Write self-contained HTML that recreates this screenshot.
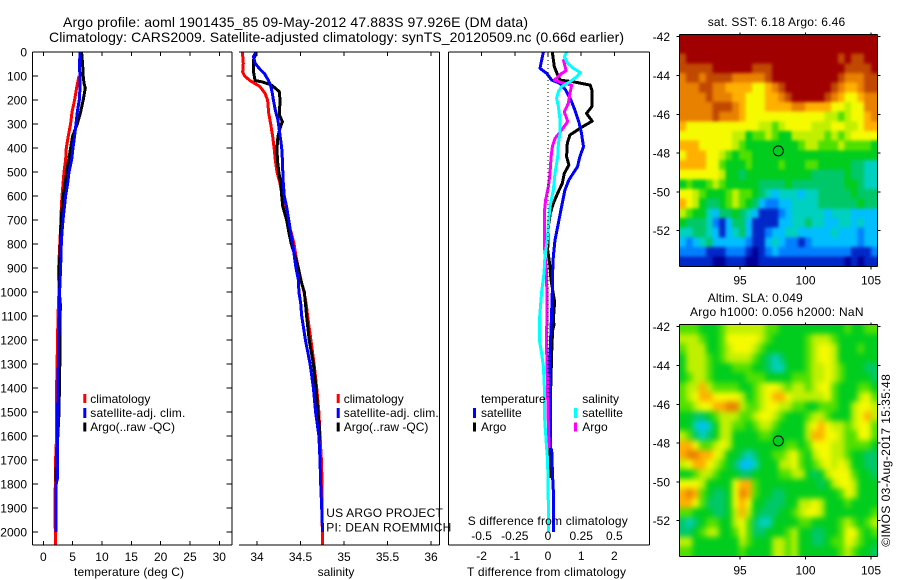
<!DOCTYPE html>
<html>
<head>
<meta charset="utf-8">
<title>Argo profile chart</title>
<style>
html,body{margin:0;padding:0;background:#fff;}
svg{display:block;}
text{font-family:"Liberation Sans",sans-serif;font-size:12px;fill:#000;}
.t14{font-size:14px;}
</style>
</head>
<body>
<svg id="chart" xmlns="http://www.w3.org/2000/svg" width="900" height="580" viewBox="0 0 900 580">
<defs>
<filter id="smoothSst" x="-5%" y="-5%" width="110%" height="110%" color-interpolation-filters="sRGB">
<feGaussianBlur stdDeviation="1.6"/>
<feComponentTransfer><feFuncA type="discrete" tableValues="0 1 1 1 1 1 1 1"/></feComponentTransfer>
</filter>
<filter id="smoothSla" x="-5%" y="-5%" width="110%" height="110%" color-interpolation-filters="sRGB">
<feGaussianBlur stdDeviation="3"/>
<feComponentTransfer><feFuncA type="discrete" tableValues="0 1 1 1 1 1 1 1"/></feComponentTransfer>
</filter>
<clipPath id="clipSst"><rect x="679.3" y="34.3" width="198" height="232"/></clipPath>
<clipPath id="clipSla"><rect x="679.3" y="324.3" width="198" height="232"/></clipPath>
</defs>
<rect x="0" y="0" width="900" height="580" fill="#fff"/>
<text class="t14" x="63" y="27" textLength="465" lengthAdjust="spacing">Argo profile: aoml 1901435_85 09-May-2012 47.883S 97.926E (DM data)</text>
<text class="t14" x="49" y="42" textLength="575" lengthAdjust="spacing">Climatology: CARS2009. Satellite-adjusted climatology: synTS_20120509.nc (0.66d earlier)</text>

<g clip-path="url(#clipSst)"><g id="mapSst" filter="url(#smoothSst)"></g></g>
<g clip-path="url(#clipSla)"><g id="mapSla" filter="url(#smoothSla)"></g></g>
<g id="series"></g>
<g id="axes"></g>

<text x="74" y="576" textLength="110" lengthAdjust="spacing">temperature (deg C)</text>
<text x="336" y="576" text-anchor="middle">salinity</text>
<text x="467" y="576" textLength="159" lengthAdjust="spacing">T difference from climatology</text>
<text x="467.7" y="525" textLength="160" lengthAdjust="spacing">S difference from climatology</text>

<g>
<rect x="83.3" y="394" width="3" height="9" fill="#f00"/>
<rect x="83.3" y="408" width="3" height="10" fill="#00f"/>
<rect x="83.3" y="422.5" width="3" height="9" fill="#000"/>
<text x="90.3" y="403">climatology</text>
<text x="90.3" y="417" textLength="95" lengthAdjust="spacing">satellite-adj. clim.</text>
<text x="90.3" y="431">Argo(..raw -QC)</text>
</g>
<g>
<rect x="336.7" y="394" width="3" height="9" fill="#f00"/>
<rect x="336.7" y="408" width="3" height="10" fill="#00f"/>
<rect x="336.7" y="422.5" width="3" height="9" fill="#000"/>
<text x="343.7" y="403">climatology</text>
<text x="343.7" y="417" textLength="95" lengthAdjust="spacing">satellite-adj. clim.</text>
<text x="343.7" y="431">Argo(..raw -QC)</text>
</g>
<g>
<text x="481" y="403">temperature</text>
<text x="481" y="417">satellite</text>
<text x="481" y="431">Argo</text>
<rect x="473" y="408" width="3" height="10" fill="#00f"/>
<rect x="473" y="422.5" width="3" height="9" fill="#000"/>
<text x="582.3" y="403">salinity</text>
<text x="582.3" y="417">satellite</text>
<text x="582.3" y="431">Argo</text>
<rect x="574" y="408" width="3" height="10" fill="#0ff"/>
<rect x="574" y="422.5" width="3" height="9" fill="#f0f"/>
</g>

<text x="326.3" y="517" textLength="116.5" lengthAdjust="spacing">US ARGO PROJECT</text>
<text x="326.3" y="531.5" textLength="125" lengthAdjust="spacing">PI: DEAN ROEMMICH</text>

<text x="707.7" y="26" textLength="137.5" lengthAdjust="spacing">sat. SST: 6.18 Argo: 6.46</text>
<text x="707.7" y="302" textLength="95" lengthAdjust="spacing">Altim. SLA: 0.049</text>
<text x="690" y="316" textLength="173.5" lengthAdjust="spacing">Argo h1000: 0.056 h2000: NaN</text>
<text transform="translate(890,546.7) rotate(-90)" x="0" y="0" textLength="172.5" lengthAdjust="spacing">©IMOS 03-Aug-2017 15:35:48</text>
</svg>

<script>
// ---------- Profile data: depths (m) and values ----------
const tempClimDepth = [100,150,200,250,300,350,400,450,500,600,650,700,900,1000,1100,1400,1600,1700,1900,2000,2054];
const tempClimValue = [6.08,5.68,5.34,4.89,4.66,4.26,3.92,3.8,3.52,3.18,3.07,3.01,2.61,2.66,2.5,2.27,2.27,2.1,2.0,2.05,2.05];
const tempArgoDepth = [0,50,100,130,150,200,250,300,350,400,450,500,600,700,800,900,1000,1050,1250,1500,1750,1790];
const tempArgoValue = [6.53,6.7,6.8,6.93,7.16,6.8,6.36,5.8,5.0,4.66,4.32,3.98,3.41,3.01,2.9,2.73,2.73,2.9,2.84,2.67,2.16,2.16];
const tempSatDepth = [0,50,100,150,200,250,300,350,400,450,500,550,600,650,700,750,800,900,1000,1100,1200,1300,1400,1500,1600,1700,1780,1800,1900,2000];
const tempSatValue = [6.3,6.14,6.25,6.25,6.14,5.8,5.57,5.34,5.06,4.83,4.38,4.15,3.8,3.58,3.35,3.18,3.07,2.95,2.78,2.73,2.6,2.56,2.5,2.44,2.44,2.39,2.39,2.2,2.2,2.2];

const salClimDepth = [1,47,83,100,119,144,172,200,255,300,353,400,450,500,547,600,644,700,748,800,853,900,950,1000,1047,1100,1200,1300,1400,1500,1600,1700,1800,1900,2000,2054];
const salClimValue = [33.832,33.842,33.836,33.858,33.92,34.034,34.092,34.122,34.134,34.158,34.18,34.196,34.21,34.23,34.264,34.292,34.31,34.34,34.39,34.426,34.448,34.476,34.506,34.54,34.564,34.582,34.62,34.656,34.686,34.712,34.724,34.74,34.748,34.748,34.75,34.75];
const salArgoDepth = [6,33,83,119,124,138,165,200,242,262,290,318,353,400,450,500,547,600,644,700,748,800,853,900,950,1000,1047,1100,1200,1300,1400,1500,1560,1620];
const salArgoValue = [33.988,33.96,33.96,33.978,34.054,34.168,34.256,34.264,34.26,34.256,34.292,34.264,34.24,34.23,34.234,34.25,34.272,34.284,34.296,34.34,34.364,34.394,34.44,34.476,34.502,34.544,34.556,34.57,34.6,34.648,34.678,34.7,34.716,34.724];
const salSatDepth = [0,19,47,72,89,117,144,172,200,242,283,325,367,400,450,500,547,600,644,700,748,800,853,900,950,1000,1047,1100,1200,1300,1400,1500,1600,1700,1800,1900,2000];
const salSatValue = [33.988,33.96,33.978,34.034,34.084,34.13,34.16,34.176,34.188,34.21,34.24,34.256,34.272,34.284,34.292,34.296,34.302,34.314,34.34,34.364,34.386,34.41,34.43,34.448,34.476,34.482,34.502,34.514,34.556,34.61,34.648,34.674,34.712,34.724,34.732,34.744,34.754];

const diffTSatDepth = [0,33,68,89,117,131,158,200,242,297,339,394,436,478,533,575,644,714,783,853,922,1000,1075,1158,1256,1400,1650,1660,1770,1850,2000];
const diffTSatValue = [-0.14,-0.19,-0.24,-0.04,0.11,0.36,0.53,0.69,0.81,0.94,1.01,1.07,0.96,0.89,0.63,0.51,0.41,0.31,0.21,0.16,0.14,0.13,0.11,0.09,0.06,0.07,0.08,0.11,0.14,0.17,0.17];
const diffTArgoDepth = [0,61,89,117,124,138,158,228,256,288,314,346,381,436,471,506,547,589,631,672,728,825,894,950,1033,1061,1117,1137,1160,1250,1400,1700,1775];
const diffTArgoValue = [0.13,0.19,0.27,0.36,0.76,1.27,1.32,1.32,1.16,1.33,1.01,0.66,0.58,0.56,0.63,0.49,0.43,0.29,0.16,0.07,0.01,-0.01,0.06,0.09,0.19,0.19,0.16,0.18,0.14,0.11,0.08,0.06,0.06];
const diffSArgoDepth = [30,78,89,117,128,138,172,214,249,290,325,360,394,436,506,561,617,672,783,839,922,1117,1200,1350,1500,1650];
const diffSArgoValue = [0.115,0.136,0.103,0.048,0.103,0.178,0.166,0.153,0.123,0.148,0.103,0.053,0.033,0.023,0.015,0.003,-0.018,-0.028,-0.028,-0.023,-0.01,-0.008,-0.012,-0.005,0,0.008];
const diffSSatDepth = [0,19,47,68,86,103,124,144,165,193,228,283,339,381,436,506,575,644,714,783,853,922,1000,1117,1200,1256,1311,1394,1533,1631,1700,1978,2000];
const diffSSatValue = [0.141,0.123,0.148,0.191,0.243,0.216,0.166,0.103,0.078,0.065,0.078,0.09,0.09,0.078,0.073,0.053,0.04,0.015,0.003,-0.005,-0.023,-0.03,-0.048,-0.065,-0.065,-0.048,-0.035,-0.028,-0.025,-0.013,-0.003,0.005,0.005];

// ---------- Tick labels ----------
const depthTicks = [0,100,200,300,400,500,600,700,800,900,1000,1100,1200,1300,1400,1500,1600,1700,1800,1900,2000];
const tempTicks = [0,5,10,15,20,25,30];
const salTicks = [34,34.5,35,35.5,36];
const tDiffTicks = [-2,-1,0,1,2];
const sDiffTicks = [-0.5,-0.25,0,0.25,0.5];
const latTicks = [-42,-44,-46,-48,-50,-52];
const lonTicks = [95,100,105];

// ---------- Map data: colour-scale levels per grid cell, north to south ----------
const sstGrid = [
[13,13,13,13,13,13,13,13,13,13,13,13,13,13,13,13,13,13,13,13,13,13,13,13,13,13,13,13,13,13],
[13,13,13,13,13,13,13,13,13,13,13,13,13,13,13,13,13,13,13,13,13,13,13,13,13,13,13,13,13,13],
[12,13,13,13,13,13,13,13,13,13,13,13,13,13,13,13,13,13,13,13,13,13,13,13,12,13,12,12,13,13],
[12,12,12,12,12,13,13,13,13,13,13,12,12,12,13,13,13,13,13,13,13,13,13,13,13,12,12,12,12,13],
[11,12,12,11,12,12,12,12,11,11,11,11,11,12,13,13,13,13,13,13,13,13,13,13,12,11,11,11,12,12],
[11,11,11,12,12,11,11,10,10,10,10,9,9,10,11,12,13,13,13,13,13,13,13,12,11,10,10,11,12,12],
[11,11,11,11,12,11,11,11,10,10,9,9,9,10,10,11,12,13,13,13,13,13,12,11,10,9,9,10,11,11],
[11,11,11,11,11,12,12,12,11,10,9,9,9,10,10,10,10,11,11,10,10,10,10,9,9,8,9,9,11,11],
[11,11,11,11,11,12,11,11,11,10,9,9,9,9,9,9,9,9,9,9,9,9,8,8,7,8,9,9,10,11],
[10,9,9,9,9,9,9,9,9,9,9,9,8,8,7,8,9,9,9,9,8,8,8,9,9,8,8,9,10,10],
[9,9,9,9,9,9,9,9,8,8,6,7,7,8,7,6,6,8,8,8,8,8,7,8,7,8,9,9,9,9],
[10,10,10,9,9,9,9,9,8,7,6,6,6,6,6,6,6,6,7,8,8,7,7,7,8,7,7,7,7,6],
[9,10,10,10,9,9,8,7,6,7,7,6,6,6,6,6,6,6,6,6,6,6,6,6,6,6,6,6,6,6],
[10,10,10,10,9,9,7,6,6,6,7,6,6,6,6,7,6,6,6,7,7,6,6,6,6,6,5,5,4,4],
[9,9,9,9,9,9,8,6,6,5,6,6,6,6,6,6,6,6,6,6,5,5,5,5,5,6,5,5,4,4],
[6,7,6,6,7,8,7,6,6,6,6,6,5,5,5,5,6,5,5,5,5,5,5,5,5,6,6,5,4,4],
[9,9,8,7,6,6,6,7,8,7,7,6,5,4,3,4,4,4,3,4,4,5,5,5,5,5,6,5,5,5],
[10,9,8,6,5,5,6,7,8,7,6,5,3,2,2,3,3,4,4,4,4,5,5,5,5,5,5,6,5,5],
[8,7,6,6,4,3,5,5,6,5,4,3,1,1,1,2,3,4,4,4,4,4,3,4,4,4,3,3,3,3],
[6,5,5,5,4,2,1,3,5,5,3,1,1,1,1,3,3,4,4,5,4,4,3,3,4,4,3,4,3,3],
[4,4,5,5,4,3,1,3,4,5,3,1,1,2,3,3,4,4,3,3,3,3,3,4,3,3,3,2,3,3],
[3,2,3,4,5,3,3,3,3,3,2,1,1,3,4,3,2,2,1,2,3,3,3,3,3,3,3,2,3,3],
[2,2,2,2,1,1,1,2,2,2,1,0,1,2,3,2,2,2,2,2,2,2,2,2,2,2,1,1,1,2],
[1,1,1,1,1,0,0,1,1,1,0,0,1,1,1,1,1,1,1,1,1,1,1,1,1,0,1,0,1,1]
];
const slaGrid = [
[7,7,7,6,6,6,7,8,8,8,8,8,8,7,7,6,6,6,6,6,6,6,6,6,6,7,6,6,7,7],
[8,8,8,7,6,6,7,9,9,9,9,9,8,7,6,6,6,6,6,7,8,8,8,7,6,6,6,6,6,6],
[7,8,8,8,6,6,7,8,9,9,9,8,7,6,6,6,6,6,6,7,8,9,9,8,6,6,6,7,6,6],
[6,8,8,8,7,6,7,8,8,8,8,7,6,5,4,5,6,6,6,7,8,9,9,8,6,6,6,6,6,6],
[6,8,8,8,7,6,6,6,7,7,7,6,6,5,4,4,6,6,6,7,8,8,9,8,7,6,6,6,5,5],
[6,7,8,8,7,6,6,6,6,6,7,7,7,6,6,6,6,7,7,7,8,8,9,8,7,6,6,6,6,5],
[7,8,8,10,8,7,7,7,7,6,6,7,8,9,9,8,7,8,8,7,8,9,9,7,6,6,6,7,7,6],
[7,8,9,10,10,9,9,9,9,8,6,7,8,9,10,10,9,8,8,8,8,8,9,7,6,6,6,8,9,7],
[7,7,8,9,9,10,10,11,11,8,7,7,8,9,9,8,8,7,7,6,6,7,7,7,6,6,8,9,9,8],
[6,6,5,5,6,7,8,8,8,7,7,8,9,9,8,7,6,6,6,7,8,8,7,6,6,6,8,9,10,8],
[6,6,4,3,4,6,8,8,7,7,6,7,8,8,7,6,6,6,6,8,9,10,9,8,8,7,8,9,9,7],
[8,7,5,4,5,6,8,8,6,6,6,6,7,7,6,6,6,6,6,8,10,10,9,9,8,7,7,9,9,7],
[10,10,9,7,7,8,9,8,6,6,6,6,6,6,6,6,7,7,6,7,9,9,9,8,8,7,7,7,7,6],
[10,11,11,10,10,9,8,6,6,5,4,5,6,6,7,7,8,9,7,6,8,9,9,8,8,7,6,6,5,5],
[8,9,10,10,9,8,7,6,5,3,3,4,6,6,6,8,8,9,7,6,7,8,9,8,9,8,6,6,5,5],
[6,6,7,8,8,7,6,6,6,5,5,6,6,6,6,7,7,8,8,6,5,6,8,9,9,9,7,6,6,5],
[9,9,9,8,6,6,6,6,9,10,10,7,6,6,6,6,6,6,6,6,6,5,6,8,9,9,8,6,6,6],
[10,11,10,7,6,5,5,6,9,11,10,7,6,6,5,5,6,6,6,6,6,6,6,6,7,9,8,6,6,6],
[10,10,9,7,5,5,5,6,9,10,9,6,6,5,5,5,6,6,8,8,9,8,6,6,6,7,6,6,6,6],
[7,7,6,6,6,5,5,6,8,10,8,6,5,5,5,6,6,7,8,9,9,8,6,6,6,6,6,6,6,7],
[5,4,5,6,7,7,6,6,8,9,7,5,4,4,6,6,6,6,7,7,6,6,6,6,7,8,7,6,7,8],
[5,5,6,7,8,8,6,6,7,9,7,5,5,6,6,6,7,8,6,6,5,5,6,6,7,9,9,7,6,7],
[8,8,6,6,6,6,6,6,6,8,7,6,6,6,8,8,7,8,6,6,5,5,6,7,7,9,8,7,6,6],
[7,7,6,6,6,6,6,6,6,7,6,6,6,6,8,8,7,8,6,6,6,6,6,6,7,8,7,6,6,5]
];
const floatLon = 97.926;
const floatLat = -47.883;

// ---------- Colour ramp (level 0..13) ----------
const levelColors = [[0,0,150],[0,40,200],[0,128,255],[0,190,255],[0,208,192],[0,200,104],[0,205,30],[80,224,0],[192,240,0],[245,250,0],[255,176,0],[232,128,0],[192,72,0],[160,0,0]];

// ---------- Axis functions ----------
const depthY = d => 52 + 0.24 * d;
const tempX = t => 43.3 + 5.867 * t;
const salX = s => 257 + 87 * (s - 34);
const tDiffX = t => 548 + 33.2 * t;
const sDiffX = s => 548 + 132.8 * s;
const lonX = lon => 740 + 13.1 * (lon - 95);
const latY = (lat, lat42Y) => lat42Y + (-42 - lat) * 19.4;
const levelColor = v => {
  const k = Math.max(0, Math.min(levelColors.length - 1, v));
  const a = Math.floor(k), b = Math.min(levelColors.length - 1, a + 1), f = k - a;
  const c = levelColors[a].map((q, i) => Math.round(q + (levelColors[b][i] - q) * f));
  return 'rgb(' + c.join(',') + ')';
};

const NS = 'http://www.w3.org/2000/svg';
function mk(parent, tag, attrs, txt) {
  const e = document.createElementNS(NS, tag);
  for (const k in attrs) e.setAttribute(k, attrs[k]);
  if (txt !== undefined) e.textContent = txt;
  parent.appendChild(e);
  return e;
}
const seriesG = document.getElementById('series');
const axesG = document.getElementById('axes');

function drawProfile(name, color, depths, values, xFn, width) {
  const pts = depths.map((d, i) => xFn(values[i]).toFixed(1) + ',' + depthY(d).toFixed(1)).join(' ');
  const el = mk(seriesG, 'polyline', {points: pts, fill: 'none', stroke: color, 'stroke-width': width, 'stroke-linejoin': 'round', 'shape-rendering': 'crispEdges'});
  
  
}
function line(name, x1, y1, x2, y2) {
  const el = mk(axesG, 'line', {x1: x1, y1: y1, x2: x2, y2: y2, stroke: '#000', 'stroke-width': 1, 'shape-rendering': 'crispEdges'});
  
  
}
function label(name, x, y, anchor, str) {
  const el = mk(axesG, 'text', {x: x, y: y, 'text-anchor': anchor}, str);
  
  
}

// ---------- Profiles ----------
drawProfile('temperature-climatology-line', '#f00', tempClimDepth, tempClimValue, tempX, 3);
drawProfile('temperature-argo-line', '#000', tempArgoDepth, tempArgoValue, tempX, 3);
drawProfile('temperature-satellite-line', '#00f', tempSatDepth, tempSatValue, tempX, 3);
drawProfile('salinity-climatology-line', '#f00', salClimDepth, salClimValue, salX, 3);
drawProfile('salinity-argo-line', '#000', salArgoDepth, salArgoValue, salX, 3);
drawProfile('salinity-satellite-line', '#00f', salSatDepth, salSatValue, salX, 3);
drawProfile('t-difference-argo-line', '#000', diffTArgoDepth, diffTArgoValue, tDiffX, 3);
drawProfile('t-difference-satellite-line', '#00f', diffTSatDepth, diffTSatValue, tDiffX, 3);
drawProfile('s-difference-argo-line', '#f0f', diffSArgoDepth, diffSArgoValue, sDiffX, 3);
drawProfile('s-difference-satellite-line', '#0ff', diffSSatDepth, diffSSatValue, sDiffX, 3);

// zero reference line in the difference panel
const zeroLine = mk(axesG, 'line', {x1: tDiffX(0), y1: depthY(0), x2: tDiffX(0), y2: depthY(1450), stroke: '#000', 'stroke-width': 1, 'stroke-dasharray': '1 3', 'shape-rendering': 'crispEdges'});



// ---------- Panel frames ----------
const topY = 52, botY = 545;
line('temperature-panel-top', 32.5, topY, 232, topY);
line('temperature-panel-bottom', 32.5, botY, 232, botY);
line('temperature-panel-left', 32.5, topY, 32.5, botY);
line('temperature-panel-right', 232, topY, 232, botY);
line('salinity-panel-top', 239, topY, 439.5, topY);
line('salinity-panel-bottom', 239, botY, 439.5, botY);
line('salinity-panel-right', 439.5, topY, 439.5, botY);
line('difference-panel-top', 448.5, topY, 649.5, topY);
line('difference-panel-bottom', 448.5, botY, 649.5, botY);
line('difference-panel-left', 448.5, topY, 448.5, botY);
line('difference-panel-right', 649.5, topY, 649.5, botY);

// ---------- Ticks and tick labels ----------
depthTicks.forEach(d => {
  const y = depthY(d);
  line('depth-tick-left', 32.5, y, 38, y);
  line('depth-tick-right', 226.5, y, 232, y);
  label('depth-tick-label', 27, y + 4.5, 'end', String(d));
});
tempTicks.forEach(t => {
  const x = tempX(t);
  line('temperature-tick-top', x, topY, x, topY + 4);
  line('temperature-tick-bottom', x, botY - 4, x, botY);
  label('temperature-tick-label', x, 561, 'middle', String(t));
});
salTicks.forEach(s => {
  const x = salX(s);
  line('salinity-tick-top', x, topY, x, topY + 4);
  line('salinity-tick-bottom', x, botY - 4, x, botY);
  label('salinity-tick-label', x, 561, 'middle', String(s));
});
tDiffTicks.forEach(t => {
  const x = tDiffX(t);
  line('t-difference-tick-top', x, topY, x, topY + 4);
  label('t-difference-tick-label', x, 560, 'middle', String(t));
});
sDiffTicks.forEach(s => {
  label('s-difference-tick-label', sDiffX(s), 540, 'middle', String(s));
});

// ---------- Maps ----------
const lonMin = 90.37, lonStep = 0.504, latStep = 0.4983;
function drawMap(prefix, grid, lat42Y, layer) {
  const latTop = -41.88;
  grid.forEach((row, r) => {
    row.forEach((v, c) => {
      const x0 = lonX(lonMin + c * lonStep), x1 = lonX(lonMin + (c + 1) * lonStep);
      const y0 = latY(latTop - r * latStep, lat42Y), y1 = latY(latTop - (r + 1) * latStep, lat42Y);
      const cell = mk(layer, 'rect', {x: x0.toFixed(2), y: y0.toFixed(2), width: (x1 - x0 + 0.4).toFixed(2), height: (y1 - y0 + 0.4).toFixed(2), fill: levelColor(v), 'shape-rendering': 'crispEdges'});
      
      
    });
  });
  const left = lonX(lonMin), right = lonX(lonMin + 30 * lonStep);
  const top = latY(latTop, lat42Y), bottom = latY(latTop - 24 * latStep, lat42Y);
  line(prefix + '-axis-left', left, top, left, bottom);
  line(prefix + '-axis-bottom', left, bottom, right, bottom);
  line(prefix + '-axis-top', left, top, right, top);
  line(prefix + '-axis-right', right, top, right, bottom);
  latTicks.forEach(lat => {
    const y = latY(lat, lat42Y);
    line(prefix + '-lat-tick-left', left - 3, y, left, y);
    line(prefix + '-lat-tick-right', right, y, right + 3, y);
    label(prefix + '-lat-label', 670, y + 4.5, 'end', String(lat));
  });
  lonTicks.forEach(lon => {
    const x = lonX(lon);
    line(prefix + '-lon-tick-top', x, top - 2, x, top);
    line(prefix + '-lon-tick-bottom', x, bottom, x, bottom + 3);
    label(prefix + '-lon-label', x, bottom + 18, 'middle', String(lon));
  });
  const marker = mk(axesG, 'circle', {cx: lonX(floatLon), cy: latY(floatLat, lat42Y), r: 5, fill: 'none', stroke: '#000', 'stroke-width': 1});
  
  
}
drawMap('sst-map', sstGrid, 36.7, document.getElementById('mapSst'));
drawMap('sla-map', slaGrid, 326.7, document.getElementById('mapSla'));
</script>
</body>
</html>
